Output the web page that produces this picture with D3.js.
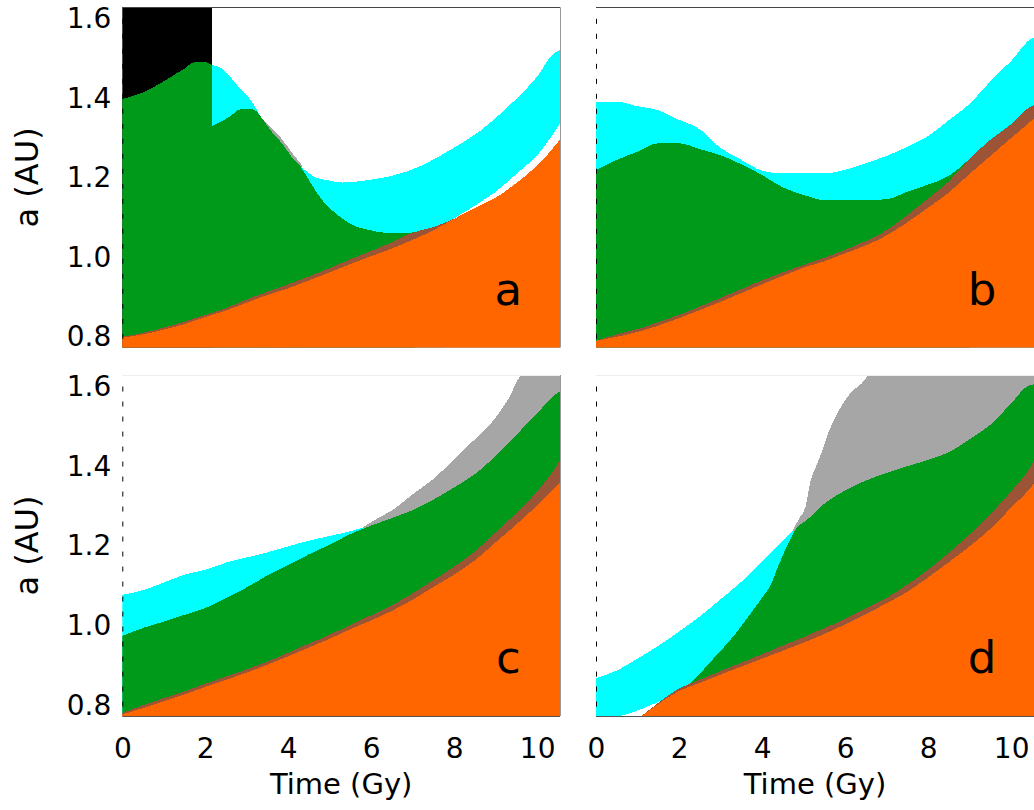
<!DOCTYPE html>
<html>
<head>
<meta charset="utf-8">
<script src="https://cdn.jsdelivr.net/npm/d3@7"></script>
<style>
html,body{margin:0;padding:0;background:#fff;}
svg{display:block;}
</style>
</head>
<body>
<svg id="chart" width="1034" height="810"></svg>
<script>
// ---------------- DATA ----------------
const xTicks = [0, 2, 4, 6, 8, 10];
const yTicks = [0.8, 1.0, 1.2, 1.4, 1.6];
const xDomain = [0, 10.55];
const yDomain = [0.773, 1.629];
const panelLetters = ["a", "b", "c", "d"];

// common time grid (Gy)
const T = [0,0.5,1,1.5,2,2.5,3,3.5,4,4.5,5,5.5,6,6.5,7,7.5,8,8.5,9,9.5,10,10.5,10.55];

// ---- panel a ----
const aOrange = [0.798,0.806,0.818,0.832,0.850,0.866,0.886,0.905,0.922,0.942,0.962,0.983,1.003,1.022,1.044,1.068,1.097,1.124,1.150,1.187,1.231,1.290,1.297];
const aBrown  = [0.800,0.810,0.823,0.838,0.855,0.872,0.894,0.913,0.932,0.952,0.973,0.995,1.016,1.038,1.062,1.076,1.097,1.124,1.150,1.187,1.231,1.290,1.297];
const aBlackT = [0, 2.15];
const aBlack  = [1.629, 1.629];
const aGreenT1 = [0,0.5,1,1.5,1.75,2,2.15];
const aGreen1  = [1.398,1.415,1.443,1.475,1.491,1.491,1.484];
const aGreenT2 = [2.15,2.3,2.6,2.85,3.15,3.4,3.6,3.85,4.1,4.3,4.5,4.7,4.9,5.15,5.45,5.7,5.95,6.3,6.8,7.05];
const aGreen2  = [1.330,1.337,1.355,1.372,1.372,1.345,1.316,1.287,1.250,1.228,1.194,1.161,1.134,1.110,1.087,1.075,1.069,1.062,1.061,1.063];
const aCyanT1 = [2.15,2.4,2.6,2.8,3.0,3.15,3.35];
const aCyan1  = [1.484,1.475,1.454,1.429,1.408,1.387,1.350];
const aGrayT = [3.3,3.6,3.85,4.1,4.32];
const aGray  = [1.356,1.326,1.297,1.262,1.233];
const aCyanT2 = [4.28,4.5,4.7,4.95,5.3,5.9,6.5,7.2,7.9,8.6,9.3,10.0,10.4,10.55];
const aCyan2  = [1.232,1.211,1.199,1.194,1.188,1.194,1.205,1.230,1.270,1.316,1.379,1.455,1.513,1.521];
const aGapT = [7.75,8.0,8.5,9.0,9.5,10.0,10.55];
const aGap  = [1.080,1.098,1.130,1.165,1.210,1.257,1.337];

// ---- panel b ----
const bOrange = [0.790,0.800,0.812,0.828,0.847,0.867,0.888,0.910,0.932,0.953,0.974,0.990,1.010,1.030,1.055,1.088,1.125,1.163,1.210,1.255,1.300,1.345,1.350];
const bBrown  = [0.790,0.806,0.819,0.837,0.855,0.876,0.898,0.920,0.942,0.962,0.981,0.999,1.019,1.041,1.068,1.106,1.148,1.191,1.248,1.296,1.335,1.381,1.383];
const bCyan   = [1.391,1.391,1.380,1.370,1.346,1.322,1.275,1.245,1.218,1.211,1.211,1.211,1.220,1.237,1.255,1.278,1.305,1.345,1.386,1.443,1.494,1.551,1.553];
const bGreenT = [0,0.5,1,1.5,2,2.5,3,3.5,4,4.5,5,5.5,6,6.5,7,7.5,8,8.5,9];
const bGreen  = [1.220,1.245,1.266,1.287,1.287,1.272,1.257,1.234,1.207,1.176,1.157,1.144,1.144,1.144,1.146,1.165,1.183,1.205,1.248];

// ---- panel c ----
const cOrange = [0.777,0.793,0.810,0.827,0.846,0.864,0.882,0.902,0.923,0.945,0.967,0.991,1.013,1.037,1.065,1.097,1.128,1.164,1.209,1.254,1.302,1.355,1.360];
const cBrown  = [0.781,0.800,0.818,0.835,0.854,0.872,0.890,0.910,0.932,0.955,0.977,1.002,1.026,1.051,1.081,1.114,1.148,1.186,1.234,1.283,1.337,1.407,1.416];
const cGreen  = [0.974,0.994,1.010,1.027,1.044,1.069,1.096,1.126,1.152,1.179,1.203,1.230,1.251,1.270,1.290,1.316,1.347,1.380,1.426,1.479,1.533,1.585,1.588];
const cCyanT = [0,0.5,1,1.5,2,2.5,3,3.5,4,4.5,5,5.5,5.8];
const cCyan  = [1.077,1.089,1.108,1.128,1.140,1.158,1.171,1.184,1.199,1.213,1.225,1.237,1.246];
const cGrayT = [5.8,6.2,6.5,7.0,7.5,8.0,8.5,9.0,9.3,9.65,10.55];
const cGray  = [1.247,1.272,1.289,1.330,1.368,1.418,1.468,1.522,1.568,1.629,1.629];

// ---- panel d ----
const dOrangeT = [1.1,1.5,2,2.5,3,3.5,4,4.5,5,5.5,6,6.5,7,7.5,8,8.5,9,9.5,10,10.5,10.55];
const dOrange  = [0.773,0.803,0.836,0.856,0.877,0.897,0.917,0.937,0.957,0.979,1.003,1.029,1.056,1.085,1.121,1.159,1.199,1.243,1.296,1.350,1.357];
const dBrown   = [0.773,0.806,0.842,0.864,0.886,0.907,0.928,0.950,0.971,0.994,1.016,1.043,1.070,1.103,1.140,1.183,1.229,1.280,1.337,1.405,1.415];
const dCyanT = [0,0.5,1,1.5,2,2.5,3,3.5,4,4.5,4.75];
const dCyan  = [0.868,0.887,0.917,0.949,0.985,1.023,1.066,1.110,1.160,1.214,1.238];
const dGapT = [0.6,0.95,1.15,1.45,1.7];
const dGap  = [0.773,0.785,0.793,0.806,0.818];
const dGreenT = [2.3,2.5,2.8,3.1,3.4,3.7,4.0,4.2,4.4,4.6,4.8,5.1,5.5,6.0,6.5,7.0,7.5,8.0,8.5,9.0,9.5,10.0,10.4,10.55];
const dGreen  = [0.857,0.879,0.914,0.948,0.985,1.027,1.070,1.100,1.152,1.200,1.240,1.267,1.306,1.339,1.364,1.383,1.400,1.416,1.435,1.468,1.504,1.558,1.601,1.606];
const dGrayT = [4.72,4.9,5.05,5.15,5.3,5.45,5.6,5.8,6.0,6.2,6.4,6.6,10.55];
const dGray  = [1.236,1.270,1.300,1.355,1.400,1.438,1.485,1.530,1.566,1.591,1.608,1.629,1.629];

// ---------------- STYLE / LAYOUT ----------------
const colors = {
  orange: "#ff6600", brown: "#9c5436", green: "#009a1a",
  cyan: "#00ffff", gray: "#a6a6a6", black: "#000000", white: "#ffffff"
};
const boxes = [
  {x0: 122.3, x1: 560,  y0: 7.3, y1: 347.5},
  {x0: 596,   x1: 1034, y0: 7.3, y1: 347.5},
  {x0: 122.3, x1: 560,  y0: 375, y1: 716},
  {x0: 596,   x1: 1034, y0: 375, y1: 716}
];

// painter order: each band fills from the panel bottom up to hi
const panels = [
  {bands: [
    {c: "black", t: aBlackT, hi: aBlack},
    {c: "cyan",  t: aCyanT1, hi: aCyan1},
    {c: "gray",  t: aGrayT,  hi: aGray},
    {c: "cyan",  t: aCyanT2, hi: aCyan2},
    {c: "white", t: aGapT,   hi: aGap},
    {c: "green", t: aGreenT1, hi: aGreen1},
    {c: "green", t: aGreenT2, hi: aGreen2},
    {c: "brown", t: T, hi: aBrown},
    {c: "orange", t: T, hi: aOrange}
  ], yAxis: true, xAxis: false},
  {bands: [
    {c: "cyan",  t: T, hi: bCyan},
    {c: "green", t: bGreenT, hi: bGreen},
    {c: "brown", t: T, hi: bBrown},
    {c: "orange", t: T, hi: bOrange}
  ], yAxis: false, xAxis: false},
  {bands: [
    {c: "gray",  t: cGrayT, hi: cGray},
    {c: "cyan",  t: cCyanT, hi: cCyan},
    {c: "green", t: T, hi: cGreen},
    {c: "brown", t: T, hi: cBrown},
    {c: "orange", t: T, hi: cOrange}
  ], yAxis: true, xAxis: true},
  {bands: [
    {c: "gray",  t: dGrayT, hi: dGray},
    {c: "cyan",  t: dCyanT, hi: dCyan},
    {c: "white", t: dGapT, hi: dGap},
    {c: "green", t: dGreenT, hi: dGreen},
    {c: "brown", t: dOrangeT, hi: dBrown},
    {c: "orange", t: dOrangeT, hi: dOrange}
  ], yAxis: false, xAxis: true}
];

const FONT = "DejaVu Sans";
const svg = d3.select("#chart");
const defs = svg.append("defs");

panels.forEach((p, pi) => {
  const b = boxes[pi];
  const x = d3.scaleLinear().domain(xDomain).range([b.x0, b.x1]);
  const y = d3.scaleLinear().domain(yDomain).range([b.y1, b.y0]);

  const clipId = "clip" + pi;
  defs.append("clipPath").attr("id", clipId)
    .append("rect").attr("x", b.x0).attr("y", b.y0)
    .attr("width", b.x1 - b.x0).attr("height", b.y1 - b.y0);

  const g = svg.append("g").attr("clip-path", `url(#${clipId})`);

  p.bands.forEach(band => {
    const pts = band.t.map((t, i) => ({t: t, hi: band.hi[i], lo: yDomain[0]}));
    const area = d3.area()
      .x(d => x(d.t))
      .y0(d => y(d.lo) + 2)
      .y1(d => y(d.hi))
      .curve(d3.curveMonotoneX);
    g.append("path").datum(pts)
      .attr("d", area)
      .attr("fill", colors[band.c])
      .attr("shape-rendering", "crispEdges");
  });

  // dashed left axis line
  svg.append("line")
    .attr("x1", b.x0 + 0.5).attr("x2", b.x0 + 0.5)
    .attr("y1", y(1.6)).attr("y2", b.y1)
    .attr("stroke", "#000").attr("stroke-width", 1)
    .attr("stroke-dasharray", "5,10");

  // frame lines
  if (pi < 2) {
    svg.append("line").attr("x1", b.x0).attr("x2", b.x1)
      .attr("y1", b.y0 + 0.2).attr("y2", b.y0 + 0.2)
      .attr("stroke", "#444").attr("stroke-width", 1);
  } else {
    svg.append("line").attr("x1", b.x0).attr("x2", b.x1)
      .attr("y1", b.y0 + 0.5).attr("y2", b.y0 + 0.5)
      .attr("stroke", "#eeeeee").attr("stroke-width", 1);
    svg.append("line").attr("x1", b.x0).attr("x2", b.x1)
      .attr("y1", b.y1 + 0.5).attr("y2", b.y1 + 0.5)
      .attr("stroke", "#555").attr("stroke-width", 1);
  }
  if (pi % 2 === 0) {
    svg.append("line").attr("x1", b.x1 + 0.5).attr("x2", b.x1 + 0.5)
      .attr("y1", b.y0).attr("y2", b.y1)
      .attr("stroke", "#999").attr("stroke-width", 1);
  }

  // axes
  if (p.yAxis) {
    const ya = svg.append("g").attr("transform", `translate(${b.x0},0)`)
      .call(d3.axisLeft(y).tickValues(yTicks).tickFormat(d3.format(".1f")).tickSize(0).tickPadding(11));
    ya.select(".domain").remove();
    ya.selectAll("text").attr("font-family", FONT).attr("font-size", 28).attr("fill", "#000");
    svg.append("text")
      .attr("transform", `translate(38,${(b.y0 + b.y1) / 2}) rotate(-90)`)
      .attr("text-anchor", "middle")
      .attr("font-family", FONT).attr("font-size", 32).attr("fill", "#000")
      .text("a (AU)");
  }
  if (p.xAxis) {
    const xa = svg.append("g").attr("transform", `translate(0,${b.y1})`)
      .call(d3.axisBottom(x).tickValues(xTicks).tickFormat(d3.format("d")).tickSize(0).tickPadding(22));
    xa.select(".domain").remove();
    xa.selectAll("text").attr("font-family", FONT).attr("font-size", 28).attr("fill", "#000");
    svg.append("text")
      .attr("x", (b.x0 + b.x1) / 2).attr("y", 794)
      .attr("text-anchor", "middle")
      .attr("font-family", FONT).attr("font-size", 29).attr("fill", "#000")
      .text("Time (Gy)");
  }

  // panel letter
  svg.append("text")
    .attr("x", b.x0 + 386).attr("y", b.y1 - 43)
    .attr("text-anchor", "middle")
    .attr("font-family", FONT).attr("font-size", 45).attr("fill", "#000")
    .text(panelLetters[pi]);
});
</script>
</body>
</html>
